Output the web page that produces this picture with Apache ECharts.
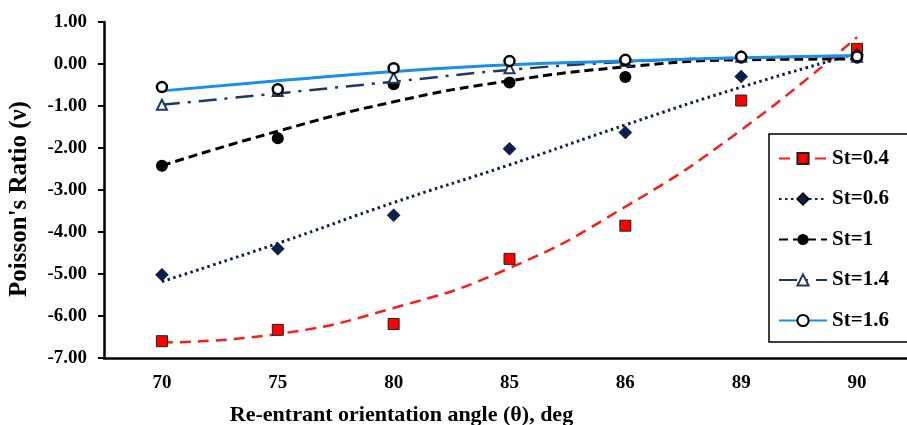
<!DOCTYPE html>
<html>
<head>
<meta charset="utf-8" />
<title>Poisson's Ratio</title>
<script src="https://cdn.jsdelivr.net/npm/echarts@6/dist/echarts.min.js"></script>
<style>
  html, body { margin: 0; padding: 0; background: #fff; }
  #main { width: 907px; height: 425px; }
</style>
</head>
<body>
<div id="main"></div>
<script type="text/javascript">
    var angles = ['70', '75', '80', '85', '86', '89', '90'];

    // measured points
    var st04 = [-6.60, -6.33, -6.19, -4.64, -3.85, -0.87, 0.36];
    var st06 = [-5.02, -4.40, -3.60, -2.02, -1.63, -0.30, 0.22];
    var st1  = [-2.42, -1.77, -0.48, -0.44, -0.31, 0.15, 0.15];
    var st14 = [-0.97, -0.64, -0.33, -0.10, 0.07, 0.17, 0.17];
    var st16 = [-0.55, -0.60, -0.10, 0.07, 0.10, 0.17, 0.18];

    // trend lines read at each angle
    var fit04 = [-6.63, -6.43, -5.81, -4.86, -3.40, -1.57, 0.64];
    var fit06 = [-5.18, -4.27, -3.30, -2.40, -1.45, -0.55, 0.25];
    var fit1  = [-2.42, -1.60, -0.90, -0.40, -0.07, 0.10, 0.12];
    var fit14 = [-0.97, -0.70, -0.42, -0.14, 0.05, 0.15, 0.18];
    var fit16 = [-0.64, -0.40, -0.18, -0.02, 0.07, 0.15, 0.20];

    var font = '"Liberation Serif", "Times New Roman", serif';

    var myChart = echarts.init(document.getElementById('main'));

    var option = {
        animation: false,
        grid: { left: 104, right: -8, top: 22, bottom: 67, containLabel: false, outerBoundsMode: 'none' },
        legend: {
            orient: 'vertical',
            left: 769,
            top: 134,
            padding: [14, 40, 11, 9],
            itemWidth: 48,
            itemHeight: 14,
            itemGap: 19.5,
            borderColor: '#000',
            borderWidth: 1.5,
            backgroundColor: '#fff',
            textStyle: { fontFamily: font, fontWeight: 'bold', fontSize: 21, color: '#000' },
            data: ['St=0.4', 'St=0.6', 'St=1', 'St=1.4', 'St=1.6']
        },
        xAxis: {
            type: 'category',
            data: angles,
            name: 'Re-entrant orientation angle (θ), deg',
            nameLocation: 'middle',
            nameGap: 46,
            nameTextStyle: { fontFamily: font, fontWeight: 'bold', fontSize: 22, color: '#000', padding: [0, 216, 0, 0] },
            axisLine: { onZero: false, lineStyle: { color: '#000', width: 2.5 } },
            axisTick: { alignWithLabel: true, length: 6, lineStyle: { color: '#000', width: 2 } },
            axisLabel: { fontFamily: font, fontWeight: 'bold', fontSize: 19, color: '#000', margin: 16 },
            splitLine: { show: false }
        },
        yAxis: {
            type: 'value',
            min: -7,
            max: 1,
            interval: 1,
            name: "Poisson's Ratio (ν)",
            nameLocation: 'middle',
            nameGap: 72,
            nameTextStyle: { fontFamily: font, fontWeight: 'bold', fontSize: 25, color: '#000', padding: [0, 18, 0, 0] },
            axisLine: { show: true, onZero: false, lineStyle: { color: '#000', width: 2.5 } },
            axisTick: { show: true, length: 6, lineStyle: { color: '#000', width: 2 } },
            axisLabel: {
                fontFamily: font, fontWeight: 'bold', fontSize: 19, color: '#000', margin: 17,
                formatter: function (v) { return v.toFixed(2); }
            },
            splitLine: { show: false }
        },
        series: [
            // trend lines (legend entries)
            {
                name: 'St=0.4', type: 'line', smooth: true, data: fit04, z: 2,
                showSymbol: false, symbol: 'rect', symbolSize: 10,
                itemStyle: { color: '#ff0000', borderColor: '#222', borderWidth: 1 },
                lineStyle: { color: '#ff1a1a', width: 2.5, type: [11, 7] }
            },
            {
                name: 'St=0.6', type: 'line', smooth: true, data: fit06, z: 2,
                showSymbol: false, symbol: 'diamond', symbolSize: 13,
                itemStyle: { color: '#0b1f4e', borderColor: '#000', borderWidth: 0.5 },
                lineStyle: { color: '#0b1f4e', width: 3, type: [2.5, 3.5] }
            },
            {
                name: 'St=1', type: 'line', smooth: true, data: fit1, z: 2,
                showSymbol: false, symbol: 'circle', symbolSize: 11,
                itemStyle: { color: '#000' },
                lineStyle: { color: '#000', width: 3, type: [9, 5] }
            },
            {
                name: 'St=1.4', type: 'line', smooth: true, data: fit14, z: 2,
                showSymbol: false, symbol: 'triangle', symbolSize: 10,
                itemStyle: { color: '#fff', borderColor: '#1f3864', borderWidth: 2 },
                lineStyle: { color: '#1f3864', width: 2.5, type: [18, 8, 3, 8] }
            },
            {
                name: 'St=1.6', type: 'line', smooth: true, data: fit16, z: 3,
                showSymbol: false, symbol: 'circle', symbolSize: 10,
                itemStyle: { color: '#fff', borderColor: '#000', borderWidth: 2.5 },
                lineStyle: { color: '#1a8fe6', width: 3 }
            },
            // measured points
            {
                name: 'pts 0.4', type: 'scatter', data: st04, symbol: 'rect', symbolSize: 11, z: 4,
                itemStyle: { color: '#ff0000', borderColor: '#222', borderWidth: 1, opacity: 1 }
            },
            {
                name: 'pts 0.6', type: 'scatter', data: st06, symbol: 'diamond', symbolSize: 13, z: 4,
                itemStyle: { color: '#0b1f4e', borderColor: '#000', borderWidth: 0.5, opacity: 1 }
            },
            {
                name: 'pts 1', type: 'scatter', data: st1, symbol: 'circle', symbolSize: 12, z: 4,
                itemStyle: { color: '#000', opacity: 1 }
            },
            {
                name: 'pts 1.4', type: 'scatter', data: st14, symbol: 'triangle', symbolSize: 10, z: 4,
                itemStyle: { color: '#fff', borderColor: '#1f3864', borderWidth: 2, opacity: 1 }
            },
            {
                name: 'pts 1.6', type: 'scatter', data: st16, symbol: 'circle', symbolSize: 10, z: 5,
                itemStyle: { color: '#fff', borderColor: '#000', borderWidth: 2.5, opacity: 1 }
            }
        ]
    };

    myChart.setOption(option);
</script>
</body>
</html>
